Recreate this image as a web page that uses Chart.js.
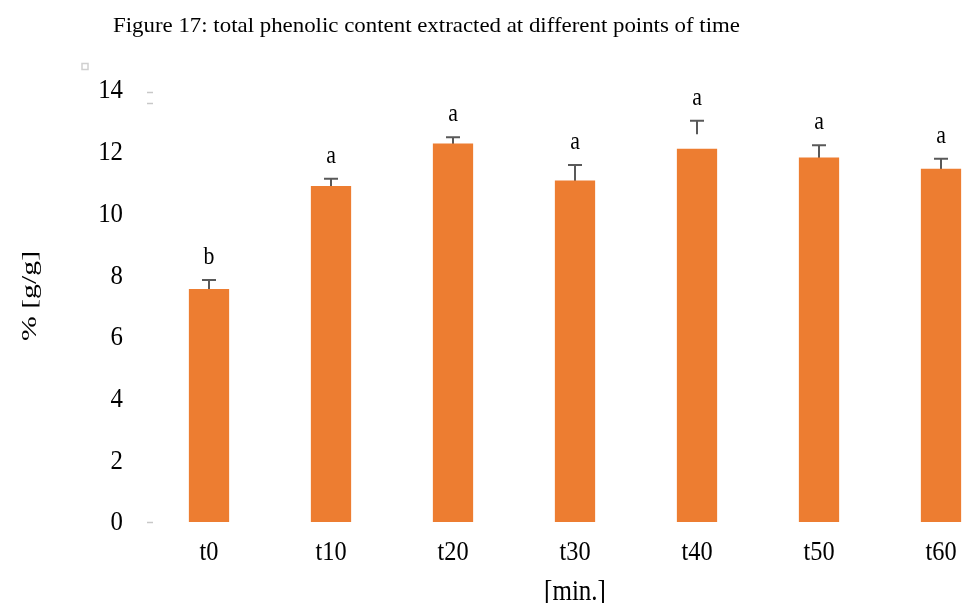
<!DOCTYPE html>
<html>
<head>
<meta charset="utf-8">
<script src="https://cdn.jsdelivr.net/npm/chart.js@4.4.1/dist/chart.umd.min.js"></script>
<style>
  html, body { margin: 0; padding: 0; background: #ffffff; overflow: hidden; }
  #wrap { width: 962px; height: 603px; overflow: hidden; position: relative; }
  canvas { display: block; }
</style>
</head>
<body>
<div id="wrap"><canvas id="c" width="1010" height="603"></canvas></div>
<script>
// Sampling times and mean total phenolic content (% g/g)
const categories = ['t0', 't10', 't20', 't30', 't40', 't50', 't60'];
const phenolic = [7.55, 10.89, 12.27, 11.07, 12.10, 11.81, 11.45];
// Error bar extents (upper and lower ends)
const errHigh = [7.84, 11.12, 12.47, 11.57, 13.00, 12.21, 11.77];
const errLow  = [7.26, 10.66, 12.07, 10.57, 12.57, 11.41, 11.13];
// Significance letters
const groups = ['b', 'a', 'a', 'a', 'a', 'a', 'a'];
const yTicks = [0, 2, 4, 6, 8, 10, 12, 14];

const SERIF = '"Liberation Serif", "Times New Roman", serif';
const TALL = 1.22; // vertical stretch of the printed glyphs

function tallText(ctx, txt, x, y, size, sx, sy, align) {
  ctx.save();
  ctx.font = size + 'px ' + SERIF;
  ctx.textAlign = align || 'center';
  ctx.textBaseline = 'middle';
  ctx.translate(x, y);
  ctx.scale(sx, sy);
  ctx.fillText(txt, 0, 0);
  ctx.restore();
}

const decor = {
  id: 'decor',
  beforeDatasetsDraw(chart) {
    const { ctx, scales: { x, y } } = chart;
    ctx.save();
    ctx.strokeStyle = '#595959';
    ctx.lineWidth = 2;
    const cap = 7;
    errHigh.forEach((hi, i) => {
      const px = x.getPixelForValue(i);
      const yHi = y.getPixelForValue(hi);
      const yLo = y.getPixelForValue(errLow[i]);
      ctx.beginPath();
      ctx.moveTo(px, yHi);
      ctx.lineTo(px, yLo);
      ctx.moveTo(px - cap, yHi);
      ctx.lineTo(px + cap, yHi);
      ctx.stroke();
    });
    ctx.restore();
  },
  afterDraw(chart) {
    const { ctx, chartArea, scales: { x, y } } = chart;
    ctx.save();
    ctx.fillStyle = '#000';
    // value axis labels
    yTicks.forEach(v => {
      tallText(ctx, String(v), chartArea.left - 25, y.getPixelForValue(v) + 1, 23, 1.08, TALL, 'right');
    });
    // category labels
    categories.forEach((c, i) => {
      tallText(ctx, c, x.getPixelForValue(i), 553, 23, 1.06, TALL);
    });
    // group letters above the error bars
    groups.forEach((g, i) => {
      tallText(ctx, g, x.getPixelForValue(i), y.getPixelForValue(errHigh[i]) - 23, 21, 1.04, TALL);
    });
    // figure caption
    ctx.font = '21px ' + SERIF;
    const cap = 'Figure 17: total phenolic content extracted at different points of time';
    const w = ctx.measureText(cap).width;
    tallText(ctx, cap, 113, 26, 21, 627 / w, 1, 'left');
    // axis titles
    tallText(ctx, '[min.]', (chartArea.left + chartArea.right) / 2, 592, 25, 1, TALL);
    ctx.save();
    ctx.translate(30, 296);
    ctx.rotate(-Math.PI / 2);
    tallText(ctx, '% [g/g]', 0, 0, 24, 1.24, 0.88);
    ctx.restore();
    // faint tick marks on the value axis
    ctx.strokeStyle = '#c8c8c8';
    ctx.lineWidth = 1.5;
    const l = chartArea.left;
    [0, 13.93, 13.58].forEach(v => {
      const py = Math.round(y.getPixelForValue(v)) + 0.5;
      ctx.beginPath();
      ctx.moveTo(l - 1, py);
      ctx.lineTo(l + 5, py);
      ctx.stroke();
    });
    ctx.strokeStyle = '#d0d0d0';
    ctx.strokeRect(82, 63.5, 6, 6);
    ctx.restore();
  }
};

new Chart(document.getElementById('c'), {
  type: 'bar',
  data: {
    labels: categories,
    datasets: [{
      data: phenolic,
      backgroundColor: '#ED7D31',
      borderWidth: 0,
      categoryPercentage: 1,
      barPercentage: 0.33
    }]
  },
  options: {
    responsive: false,
    animation: false,
    devicePixelRatio: 1,
    layout: { padding: { top: 90, right: 8, left: 0, bottom: 0 } },
    plugins: { legend: { display: false }, tooltip: { enabled: false }, title: { display: false } },
    scales: {
      x: {
        grid: { display: false, drawTicks: false },
        border: { display: false },
        ticks: { display: false },
        afterFit(s) { s.height = 81; }
      },
      y: {
        min: 0, max: 14,
        afterBuildTicks(s) { s.ticks = yTicks.map(v => ({ value: v })); },
        grid: { display: false, drawTicks: false },
        border: { display: false },
        ticks: { display: false },
        afterFit(s) { s.width = 148; }
      }
    }
  },
  plugins: [decor]
});
</script>
</body>
</html>
